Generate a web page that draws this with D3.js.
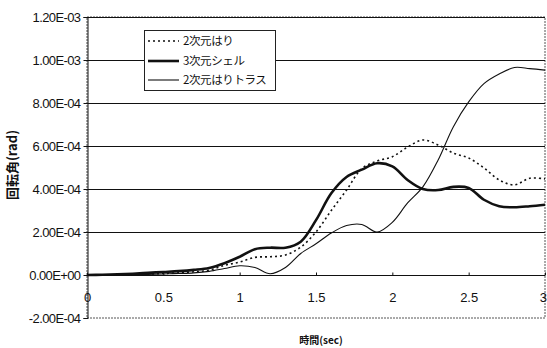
<!DOCTYPE html>
<html><head><meta charset="utf-8">
<script src="https://cdn.jsdelivr.net/npm/d3@7/dist/d3.min.js"></script>
<style>
html,body{margin:0;padding:0;background:#fff;}
svg{display:block;}
.tick text{font-family:"Liberation Sans Narrow","Arial Narrow","Liberation Sans",Arial,sans-serif;}
</style></head>
<body><svg id="c" width="547" height="348"></svg>
<script>
// time (sec)
const times = [0,0.1,0.2,0.3,0.4,0.5,0.6,0.7,0.8,0.9,1.0,1.1,1.2,1.3,1.4,1.5,1.6,1.7,1.8,1.9,2.0,2.1,2.2,2.3,2.4,2.5,2.6,2.7,2.8,2.9,3.0];
// rotation angle (rad), x1e-4
const beam2d  = [0,0.005,0.01,0.02,0.04,0.07,0.1,0.15,0.22,0.45,0.6,0.82,0.85,0.93,1.3,2.0,3.0,3.95,4.95,5.3,5.5,5.95,6.28,6.05,5.67,5.44,4.98,4.42,4.19,4.5,4.47];
const shell3d = [0,0.01,0.03,0.06,0.1,0.14,0.18,0.24,0.33,0.55,0.85,1.2,1.27,1.27,1.55,2.55,3.8,4.56,4.9,5.2,5.05,4.42,4.0,3.95,4.1,4.05,3.5,3.2,3.15,3.2,3.27];
const truss2d = [0,0,0.01,0.02,0.03,0.05,0.07,0.1,0.17,0.3,0.43,0.35,0.06,0.35,1.0,1.45,1.95,2.3,2.35,2.0,2.45,3.35,4.1,5.35,6.9,8.05,8.9,9.35,9.65,9.6,9.53];
const seriesNames = ["2次元はり","3次元シェル","2次元はりトラス"];
const yTicks = [-2e-4,0,2e-4,4e-4,6e-4,8e-4,1e-3,1.2e-3];
const yTickLabels = ["-2.00E-04","0.00E+00","2.00E-04","4.00E-04","6.00E-04","8.00E-04","1.00E-03","1.20E-03"];
const xTicks = [0,0.5,1,1.5,2,2.5,3];
const xTickLabels = ["0","0.5","1","1.5","2","2.5","3"];
const xTitle = "時間(sec)";
const yTitle = "回転角(rad)";

const svg = d3.select("#c");
const L=87, R=545, T=17, B=318;
const x = d3.scaleLinear().domain([0,3]).range([L,R]);
const y = d3.scaleLinear().domain([-2e-4,1.2e-3]).range([B,T]);

// plot border
svg.append("rect").attr("x",L).attr("y",T).attr("width",R-L).attr("height",B-T)
  .attr("fill","none").attr("stroke","#555").attr("stroke-width",1).attr("stroke-dasharray","2,1");

// gridlines
svg.append("g").selectAll("line").data(yTicks.filter(v=>v>-2e-4)).join("line")
  .attr("x1",L).attr("x2",R).attr("y1",d=>Math.round(y(d))+0.5).attr("y2",d=>Math.round(y(d))+0.5)
  .attr("stroke","#111").attr("stroke-width",1);

// y axis
const yAxis = d3.axisLeft(y).tickValues(yTicks).tickSize(4).tickPadding(3)
  .tickFormat((d,i)=>yTickLabels[i]);
const gy = svg.append("g").attr("transform",`translate(${L+0.5},0)`).call(yAxis);
gy.select(".domain").attr("stroke","#111");
gy.selectAll(".tick line").attr("stroke","#111");
gy.selectAll(".tick text").attr("font-size","13px").attr("fill","#111").attr("letter-spacing","-0.6");

// x axis labels
const xAxis = d3.axisBottom(x).tickValues(xTicks).tickSize(3).tickPadding(14)
  .tickFormat((d,i)=>xTickLabels[i]);
const gx = svg.append("g").attr("transform",`translate(0,${Math.round(y(0))+0.5})`).call(xAxis);
gx.select(".domain").remove();
gx.selectAll(".tick line").attr("stroke","#111").attr("transform","translate(0,-3)").attr("y2",3);
gx.selectAll(".tick text").attr("font-size","13px").attr("fill","#111")
  .attr("text-anchor",(d,i)=>i===xTicks.length-1?"end":"middle")
  .attr("dx",(d,i)=>i===xTicks.length-1?"1.5":"0");

// series
const line = d3.line().x((d,i)=>x(times[i])).y(d=>y(d*1e-4)).curve(d3.curveCatmullRom.alpha(0.5));
const styles = [
  {data:beam2d, w:1.6, dash:"2,3"},
  {data:shell3d, w:2.6, dash:null},
  {data:truss2d, w:1.1, dash:null}
];
svg.append("clipPath").attr("id","clp").append("rect").attr("x",L).attr("y",T).attr("width",R-L).attr("height",B-T);
svg.append("g").attr("clip-path","url(#clp)").selectAll("path").data(styles).join("path")
  .attr("d",d=>line(d.data)).attr("fill","none").attr("stroke","#111")
  .attr("stroke-width",d=>d.w).attr("stroke-dasharray",d=>d.dash)
  .attr("stroke-linejoin","round");

// legend
const lg = svg.append("g");
lg.append("rect").attr("x",144.5).attr("y",30.5).attr("width",131).attr("height",60)
  .attr("fill","#fff").attr("stroke","#222").attr("stroke-width",1);
const rows = [41,61,80];
styles.forEach((s,i)=>{
  lg.append("line").attr("x1",148).attr("x2",179).attr("y1",rows[i]).attr("y2",rows[i])
    .attr("stroke","#111").attr("stroke-width",s.w).attr("stroke-dasharray",s.dash);
  lg.append("text").attr("x",183).attr("y",rows[i]).attr("dy","0.36em")
    .attr("font-family","'Noto Sans CJK JP',sans-serif").attr("font-size","11.5px")
    .attr("letter-spacing","-0.4").attr("fill","#111").text(seriesNames[i]);
});

// titles
svg.append("text").attr("transform","translate(17,165) rotate(-90)").attr("text-anchor","middle")
  .attr("font-family","'Noto Sans CJK JP',sans-serif").attr("font-size","13px").attr("font-weight","bold")
  .attr("fill","#111").text(yTitle);
svg.append("text").attr("x",321).attr("y",340).attr("dy","0.35em").attr("text-anchor","middle")
  .attr("font-family","'Noto Sans CJK JP',sans-serif").attr("font-size","10px").attr("font-weight","bold")
  .attr("fill","#111").text(xTitle);
</script></body></html>
